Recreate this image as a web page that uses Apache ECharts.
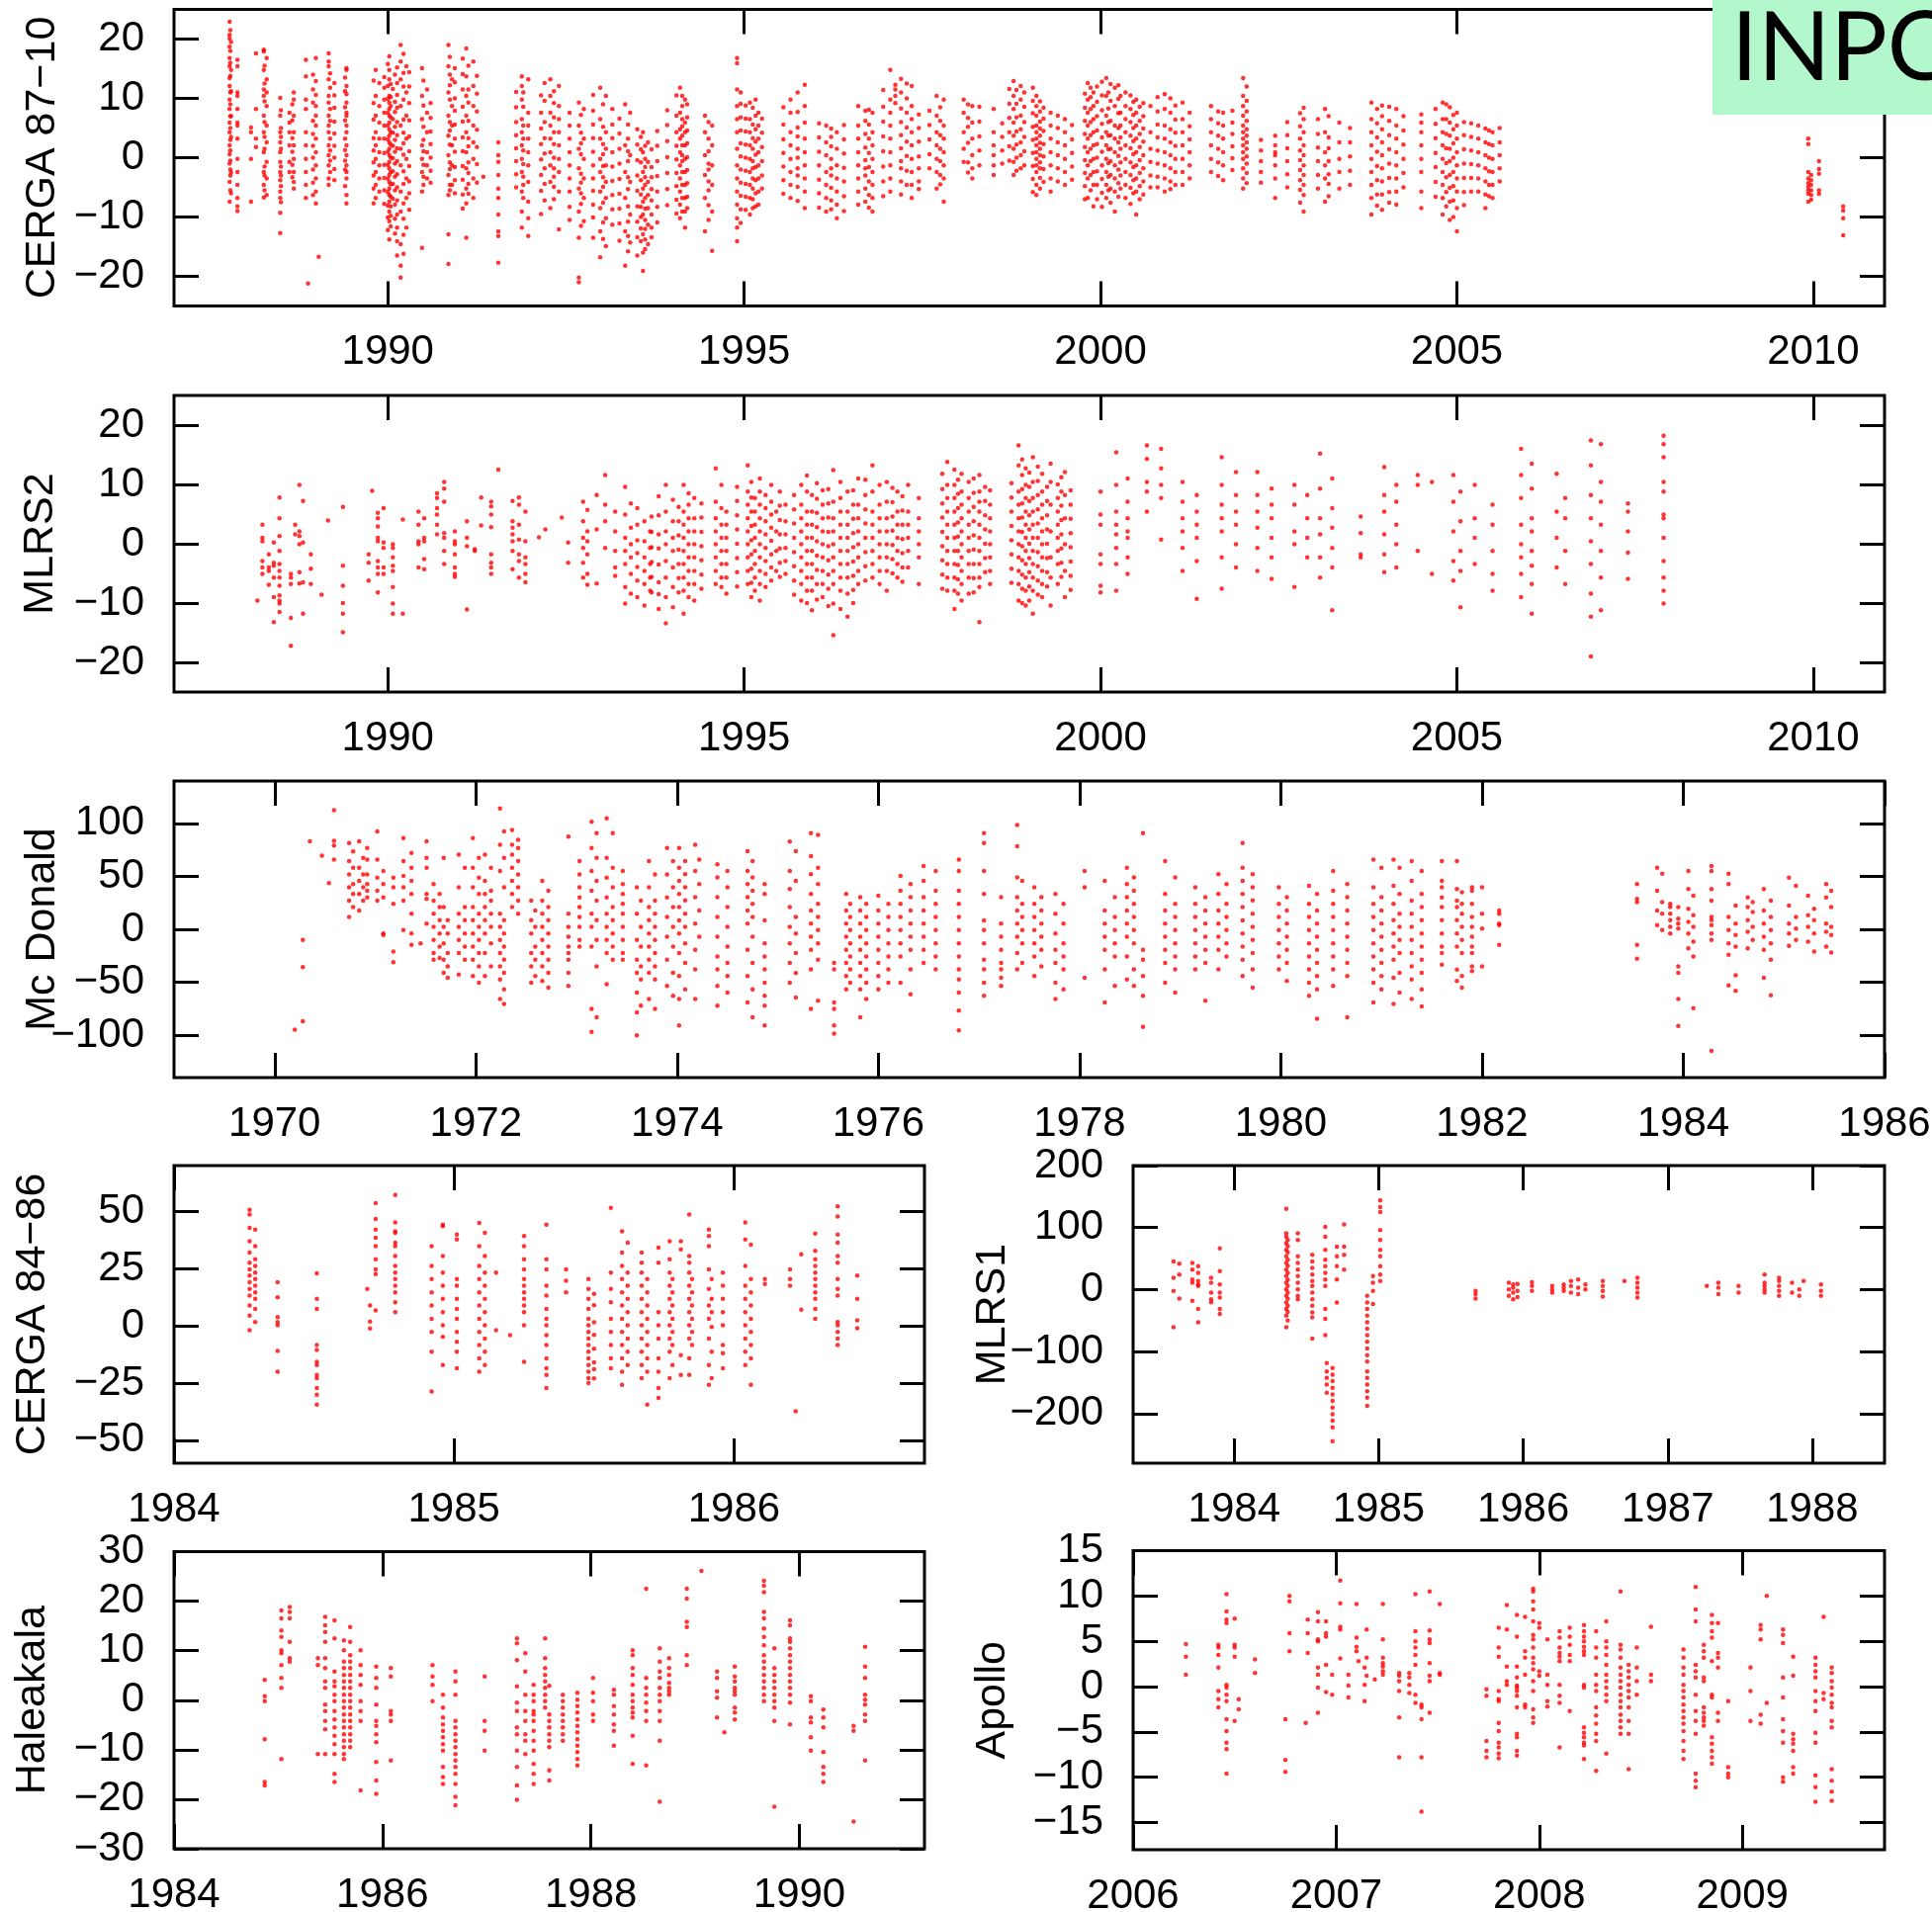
<!DOCTYPE html>
<html><head><meta charset="utf-8">
<script src="https://cdn.jsdelivr.net/npm/echarts@6/dist/echarts.min.js"></script>
<style>html,body{margin:0;padding:0;background:#fff}#c{width:1954px;height:1934px}</style>
</head><body><div id="c"></div><script>
// ---- DATA: each row = [epoch (year), residual1, residual2, ...] ----
const cerga8710Nights = [
[1987.78,22.9,20.7,20.1,18.7,16.8,15.4,13.4,12.1,9.8,8.2,5.9,4.3,2.1,0.6,-1,-4.1,-7.4],
[1987.79,21.5,18,16,13.8,11,9,7,5,3,1.2,-0.5,-2,-3,-5.5],
[1987.80,19.5,14.8,11.2,7,3.5,-2.5,-6],
[1987.89,16.5,15.4,11,10.4,8.2,5.9,5.4,3.2,-0.2,-2.4,-4.6,-6.8,-8.2,-9],
[1988.08,5.1,4.3,-0.2,-7.4],[1988.15,17.6,8.2,3.2,1.8],
[1988.26,18.2,17.9,14.8,11.5,10.4,7.1,4.3,0.9,-2.4,-4.6,-6.7],
[1988.27,15.5,12.5,9.5,6,3.5,1.5,-1.5,-3,-5.5],
[1988.30,16.8,13.2,11,8.7,5.4,2.6,-0.7,-3.5,-6.3],
[1988.49,10.1,7.1,4.3,2.6,0.9,-0.7,-2.4,-3.8,-5.7,-6.8,-9.3,-12.7],
[1988.50,8,5,3.5,1.5,-1.5,-3,-4.8,-7.5],
[1988.62,7.6,5.9,4.3,2.1,-0.7,-2.4],[1988.66,9,6.3,3.3,1,-1.2,-3.3],
[1988.68,11,9.8,7.1,4.3,2.1,-0.2,-2.4,-4.1,-5.2],
[1988.85,16.5,13.7,9.8,8.2,4.3,2.1,-0.2,-2.4,-4.6,-6.8],[1988.88,-21.2],
[1988.95,14,11.5,9.3,6.2,4,2,0,-2,-4.2,-6.3],
[1988.99,16.8,12.9,10.6,8.7,7.1,5.4,3.2,0.9,-1.3,-3.5,-5.7,-7.7],[1989.03,-16.7],
[1989.17,17.6,16.2,15.4,13.2,10.4,9.3,7.1,5.4,4.3,2.1,0.4,-1.3,-3.5,-4.6],
[1989.19,14.2,11.8,8.2,6.2,3.2,1.2,-0.5,-2.4],[1989.25,12.6,10.5,8.4,6.1,4.1,2,0,-1.9,-3.8],
[1989.40,13.5,11.2,8.5,6.3,3.2,1.3,-0.5,-2,-4.8],
[1989.42,15.1,14.8,12.1,10.7,9.3,7.6,7.1,5.4,4.3,2.1,0.4,-1.3,-2.4,-3.5,-6.3,-7.7],
[1989.80,13,9.2,6.4,3.3,1.2,-0.8,-3,-5.2,-7.7],
[1989.83,14.8,10.4,7.1,4.3,2.1,-0.2,-2.4,-4.6,-6.8],
[1989.88,12.6,8.7,5.9,3.2,0.9,-1.3,-3.5,-5.7],
[1989.95,13.6,11.8,9.8,7.6,5.4,3.2,0.8,-1.2,-3.4,-5.5,-7.8],
[1990.00,15.8,12.1,9.9,7.6,5.4,3.1,1,-1.2,-3.5,-5.8,-8.1,-10.1,-12.2],
[1990.02,17.1,14.8,13.2,10.4,9.3,8.2,7.1,5.9,4.8,3.7,2.6,1.5,0.4,-0.7,-1.8,-2.9,-4.1,-5.2,-6.3,-7.4,-9.1,-10.7,-13.8],
[1990.04,12.4,10.2,8.7,6.8,4.3,2.2,0,-2.4,-4.5,-6.6,-8.2,-9.8,-11.6],
[1990.07,11.6,6.5,4.2,2,-0.1,-2.3,-4.4,-6.9],
[1990.10,14,9.4,7.7,5.2,3,1,-1,-3.2,-5.5,-7.9,-10.3,-12.8],
[1990.13,15.2,12.6,10.6,8.4,6,3.8,1.6,-0.6,-2.8,-5,-7.2,-9.6,-11.8,-14.1,-16.5],
[1990.18,19,16.2,13.2,8.7,5.4,1.5,-1.3,-5.7,-9.1,-14.6,-18.2,-20.2],
[1990.22,17.5,14.3,12,9.8,6.4,4.2,2.4,0.5,-2.3,-4.4,-7.7,-10.3,-13,-16.2],
[1990.26,15.4,11,7.1,3.2,-0.2,-3.5,-6.8,-11.8],
[1990.30,14.4,12,9.2,6.3,3.6,1.1,-1.4,-4,-6,-8.8],
[1990.48,15.1,10.4,6.5,2.1,-0.2,-2.4,-5.7,-15.2],
[1990.50,13,8.8,5.2,3,1.1,-1.2,-3.2,-4.6],
[1990.55,11.5,7.6,4.3,0.9,-1.3,-3.5],[1990.60,9.2,6.7,4.4,2.3,0,-2.2,-4.2],
[1990.85,19,15.4,11,7.1,3.7,0.4,-2.9,-6.3,-12.9,-17.9],
[1990.87,17,14,12.2,9.8,6,4.6,2.2,-0.8,-1.9,-4.6,-5.5],
[1990.90,13.2,8.7,5.4,2.1,-1.3,-4.6],[1990.94,15.1,12.7,10,7.9,5.6,3.2,1,-1.6,-3.8,-6],
[1991.05,16.7,14.1,11.5,8.6,6.1,3.4,1.1,-1.4,-3.7,-6.2,-8.6],
[1991.10,18.4,13.7,10.4,7.1,4.3,0.9,-1.8,-5.2,-7.7,-13.5],
[1991.13,15.5,11.5,9.3,6.2,3.3,1.9,-0.8,-2.6,-4.4,-6.1],
[1991.20,16.2,12.1,8.7,5.4,2.6,-0.2,-3.5,-6.8],[1991.25,13.8,10.8,7.8,4.7,1.8,-1.1,-4.2],[1991.34,-3.2],
[1991.55,2.6,0.4,-0.7,-2.9,-5.2,-6.8,-9.6,-12.4,-13.2,-17.7],
[1991.80,11.1,8.5,6,3.8,1.6,-0.6,-2.8,-5],
[1991.88,13.7,12.1,9.8,6.5,4.3,2.1,-0.2,-2.4,-5.7,-9.1,-11.8],
[1991.90,11,8.6,5.4,3.2,1.2,-1.1,-3.2,-4.6,-6.8],
[1991.97,13.2,7.6,5.4,3.2,0.9,-1.3,-4.1,-7.4,-10.2,-13.2],
[1992.15,10.5,7.6,4.9,2.3,-0.3,-2.9,-5.6,-9.5],[1992.20,12.6,9.6,6,3.3,0.7,-1.8,-4.4,-7.2],
[1992.28,13.2,10.4,7.6,5.4,3.2,0.9,-1.3,-4.1,-8.5],
[1992.33,11.2,9.2,6.8,4.3,2.3,0,-1.8,-3.2,-4.9,-7],
[1992.40,12.1,8.7,6.5,4.3,2.1,-0.2,-2.4,-5.7,-12.1],
[1992.55,7.6,5.4,3.2,0.9,-1.3,-3.5,-5.7,-8.3,-10.5],
[1992.68,9.3,5.4,1.5,-1.8,-5.2,-9.1,-13.5,-20.2,-21],
[1992.71,7.2,4.2,2.4,0.6,-2.7,-4.2,-6,-7.8,-11.5],
[1992.75,8.2,3.2,-0.2,-3.5,-6.8,-10.7],
[1992.88,10.6,7.9,5.6,3.3,1,-1.3,-3.5,-5.6,-7.9,-10.1,-13.5],
[1992.98,11.8,6.5,3.2,-0.2,-2.4,-5.7,-8.5,-12.4,-16.8],
[1993.02,9,5.2,2.3,0.6,-1.4,-3.3,-4.9,-7.6,-10.9,-13.7],
[1993.06,10.4,4.3,1.5,-1.3,-4.1,-6.8,-10.2,-14.9],
[1993.15,8.2,5.6,3.3,0.9,-1.5,-3.9,-6.3,-8.7,-11.3],
[1993.25,6.6,4.1,1.5,-1,-3.6,-6.1,-8.6,-11.1,-14],
[1993.33,9,2.1,-2.4,-6.8,-12.4,-18.2],[1993.37,5.6,3.2,1.1,-0.6,-3.3,-5.3,-8.2,-10.8,-13.2,-15.8],
[1993.40,7.6,0.4,-4.1,-9.6,-14.3],
[1993.50,4.8,2.2,-0.4,-3,-5.6,-8.2,-10.8,-13.4,-16.5],
[1993.55,3.5,1.4,-0.8,-3.8,-6.2,-8.3,-10,-11.9,-14.1],
[1993.58,4.3,0.9,-2.4,-5.2,-7.4,-9.6,-12.9,-16,-19.1],
[1993.61,2,-0.2,-1.6,-3.3,-4.6,-6.8,-8.6,-10.5,-12,-13.8,-15.4],
[1993.65,2.6,-0.7,-4.1,-6.3,-8.5,-11.3,-14.6],
[1993.70,1.4,-1.6,-3.3,-5.3,-7.2,-9.6,-11.8,-13.4],
[1993.78,4.5,2,-0.6,-3.1,-5.7,-8.3,-10.9],[1993.92,8,5.5,2.8,0.1,-2.6,-5.3,-8],
[1994.05,10.5,7.1,4.3,2,-0.3,-2.6,-4.8,-7.1,-9.4],
[1994.10,11.8,7.6,4.8,3.2,0.9,-1.3,-3.5,-5.7,-7.9,-10.2],
[1994.13,10.4,8.7,6.5,5.3,3.7,2.1,0.4,-0.6,-2.4,-4.6,-6.8,-9.1],
[1994.17,9.8,5.9,4.3,2.1,-0.2,-2.4,-4.6,-6.8,-9.1,-11.8],
[1994.20,9,6.8,4.6,2.4,0.1,-2.1,-4.3,-6.6,-8.5],
[1994.45,7.1,4.3,0.4,-2.9,-6.8,-12.4],[1994.50,6,3.2,1.1,-1,-2,-4,-5.5,-8,-10.5],
[1994.55,5.4,2.1,-1.3,-4.6,-9.1,-15.7],
[1994.90,16.8,15.9,11.5,8.7,6.5,4.3,1.5,-1.3,-3.5,-5.7,-7.9,-10.2,-11.8,-14.1],
[1994.95,11,9.1,6.8,4.6,2.4,0.2,-2,-4.2,-6.4,-8.7,-11],
[1995.02,8.8,6.6,4.4,2.2,0,-2.2,-4.4,-6.6,-8.8],
[1995.08,9.3,6.5,4.3,2.1,-0.2,-2.4,-4.6,-6.8,-9.6],
[1995.12,8.4,5.6,3.3,1.5,-0.6,-1.8,-3.5,-5.2,-7,-8.5],
[1995.16,9.8,7.1,4.8,2.7,0.5,-1.6,-3.8,-6,-8.2],
[1995.20,7.6,5.4,3.2,0.9,-1.3,-3.5,-5.7,-7.9],[1995.25,6.6,4.2,1.8,-0.6,-3,-5.2],
[1995.55,8.5,5.6,3.1,0.8,-1.5,-3.8,-6.1],
[1995.65,9.8,7.6,4.3,2.1,-0.2,-2.4,-4.6,-6.8],
[1995.75,11,7.7,5.1,3.6,1.5,0,-1.8,-3,-4.9,-7.3],
[1995.85,12.3,8.7,5.9,3.2,0.9,-1.3,-3.5,-5.7,-8.5],
[1996.05,5.8,3.4,1,-1.3,-3.7,-6,-8.4],
[1996.15,5.4,2.6,0.4,-2.4,-4.6,-6.8,-9.1],[1996.22,4.9,3.5,1.9,-0.2,-1.8,-3,-5.1,-7.2,-8.7],
[1996.30,4.3,1.5,-1.3,-3.5,-5.7,-7.9,-10.2],[1996.40,5.5,3.1,0.7,-1.7,-4,-6.5,-9],
[1996.60,8.7,5.4,3.2,0.9,-1.3,-3.5,-5.7,-7.9],[1996.70,7.9,6.2,4,1.7,-0.4,-1.8,-3,-5.2,-7.4],
[1996.75,8.1,5.6,3.2,0.8,-1.6,-4,-6.3,-8.4],
[1996.80,7.6,4.3,2.1,-0.2,-2.4,-4.6,-6.8,-9.1],[1996.95,11.4,8.6,6.1,3.6,1.1,-1.5,-4,-6.5],
[1997.05,14.8,9.8,7.6,5.4,3.2,0.9,-1.3,-3.5,-5.7],[1997.12,12.3,11.5,10.4,9.2],
[1997.20,13.3,11,8.3,6,3.8,1.6,-0.6,-1.8,-4,-6.2],[1997.28,12.5,10,7.6,5.1,2.7,0.3,-2.2,-4.6],
[1997.35,12.1,8.7,6.5,4.3,2.1,-0.2,-2.4,-4.6,-6.8],[1997.45,7.3,5,2.7,0.2,-1.8,-4,-5.3],
[1997.60,7.9,5.5,3.1,0.6,-1.8],
[1997.70,10.4,7.1,4.3,2.1,-0.2,-2.4,-5.2],[1997.75,8.5,6.2,3.8,1.5,-0.6,-2.9,-4.5],
[1997.80,9.8,5.4,3.2,0.9,-1.3,-3.5,-7.4],
[1998.08,9.8,7.6,4.3,1.5,-0.7],[1998.14,9,6.7,5.2,2.5,-0.8,-2.5],[1998.20,8.7,5.9,3.2,0.4,-1.8,-3.5],
[1998.30,8.6,6.1,3.6,1.2,-1.3],[1998.50,8.2,4.3,2.1,0.4,-1.3,-2.9],[1998.62,5.8,3.5,1.2,-1],
[1998.72,11.6,9.1,6.7,4.3,1.9,-0.5],
[1998.78,12.9,10.4,8.2,5.9,3.7,1.5,-0.7,-2.9],[1998.82,11.4,9.1,6.8,4.4,2.2,0,-2.2],
[1998.88,12.1,9.8,7.1,4.8,2.6,0.4,-1.8],[1998.93,11,8.6,6,3.5,1.1,-1.3],
[1999.05,11.8,9.6,7.5,5.2,3,0.8,-1.4,-3.6,-5.8],
[1999.10,10.4,8.7,7.1,5.4,4.3,3.2,2.1,0.9,-0.2,-1.3,-2.4,-4.6,-6.3],
[1999.15,9.5,7.8,6.1,4.9,3.7,2.5,1.5,0.4,-0.8,-1.8,-3.4,-5.2],
[1999.20,8.4,6.6,4.5,2.3,0.2,-1.9,-4.1],
[1999.30,7.6,5.4,3.2,0.9,-1.3,-3.5,-5.7],[1999.40,7.1,5,2.6,0.4,-1.8,-4],
[1999.50,6.5,4.3,2.1,-0.2,-2.4,-4.6],[1999.60,5.5,3.1,0.8,-1.5,-3.7],
[1999.78,10.8,8.4,6.2,4,1.8,-0.4,-2.6,-4.8,-7],
[1999.82,12.6,9.8,7.6,5.4,3.2,0.9,-1.3,-3.5,-6.8],[1999.86,11.8,10.2,8.2,6,3.8,1.5,-0.6,-2.9,-5.5],
[1999.90,11,8.7,6.5,4.3,2.1,-0.2,-2.4,-4.6,-8.2],[1999.95,12,9.4,7,4.6,2.3,0,-2.3,-4.6,-7],
[2000.02,12.8,10.5,8,5.7,3.4,1,-1.3,-3.6,-5.9,-8.3],
[2000.08,13.4,10.4,7.1,4.3,2.1,-0.2,-2.4,-4.6,-6.8],[2000.11,11,8.3,6,3.7,1.4,-0.9,-3.2,-5.5],
[2000.14,12.4,9.6,6.2,3.8,1.5,-0.6,-2.9,-5.2,-7.6],
[2000.20,11.8,8.7,5.4,3.2,0.9,-1.3,-3.5,-5.7,-9.1],[2000.25,12.2,9.9,7.5,5,2.6,0.3,-2,-4.3,-6.6],
[2000.28,10.4,7.6,5.4,3.4,1.5,-0.8,-3,-5.2],
[2000.35,11,8.7,6.5,4.3,2.1,-0.2,-2.4,-4.6,-6.8],[2000.42,10.5,8.2,6,3.7,1.6,-0.8,-2.9,-5.1,-7.8],
[2000.46,9.4,7.2,5,2.8,0.6,-1.6,-3.8,-6],
[2000.50,9.8,7.6,5.4,3.2,0.9,-1.3,-3.5,-5.7,-9.6],[2000.55,8.6,6.2,4,1.8,-0.4,-2.6,-4.8,-7],
[2000.60,9.2,7,4.9,2.7,0.4,-1.8,-4,-6.2],
[2000.70,8.7,4.3,1.5,-0.7,-3,-5],[2000.80,10.2,7.8,5.6,3.4,1.2,-1,-3.2,-5],
[2000.90,10.7,8.2,5.4,3.2,0.9,-1.3,-3.5,-5.7],[2000.98,10,7.6,4.8,2.6,0.4,-1.8,-4,-5.3],
[2001.05,8.8,6.4,4.2,2,-0.2,-2.4,-4.6],
[2001.15,9.3,6.5,4.3,2.1,-0.2,-2.4,-4.6],[2001.25,7.6,5.3,3.1,0.9,-1.3,-3.5],
[2001.55,8.7,6.5,4.3,2.1,-0.2,-2.4],[2001.65,7.8,5.8,3.7,1.5,-0.8,-3.1],[2001.72,7.6,5.4,3.2,0.9,-1.3,-3.8],
[2001.85,7.9,5.9,4,1.9,-0.1,-2.1],
[2002.00,13.4,10.4,8.7,7.1,5.4,4.3,3.2,2.1,0.9,-0.2,-1.8,-3.5,-5.2],
[2002.05,12,9.6,7.8,6.2,4.8,3.7,2.6,1.5,0.2,-1,-2.6,-4.3],
[2002.25,3,1.2,-0.6,-2.4,-4.2],
[2002.45,3.7,2.1,0.9,0.4,-1.3,-3.5,-6.8],[2002.62,6,3.8,1.6,-0.6,-2.8,-5],
[2002.80,7.5,5.3,3.2,1.2,-0.4,-2.1,-3.8,-5.4,-7.6],
[2002.85,8.4,6.5,4.3,2.1,0.4,-1.3,-2.9,-4.6,-6.3,-9.1],
[2003.05,6.5,4,1.7,-0.6,-2.9,-5.2],
[2003.15,8.2,4.3,0.9,-1.3,-3.5,-7.4],[2003.20,7,3.4,1.6,-0.6,-2.8,-4.4,-6.5],
[2003.35,5.9,2.6,-0.2,-2.4,-5.2],[2003.50,5,2.6,0.2,-2.2,-4.6],
[2003.80,9.3,6.5,4.3,2.1,-0.2,-2.4,-4.6,-6.8,-9.6],[2003.88,8.2,5.8,3.4,1,-1.4,-3.8,-6.2,-8.1],
[2003.95,8.8,7,4.8,2.6,0.4,-1.8,-4,-6.2,-8.8],[2004.05,8.6,6.2,3.8,1.4,-1,-3.4,-5.8,-7.6],
[2004.15,8.2,5.4,3.2,0.9,-1.3,-3.5,-5.7,-7.9],[2004.25,7,4.6,2.2,-0.2,-2.6,-5],
[2004.50,7.3,5.9,4.3,2.1,-0.2,-2.4,-5.7,-8.5],[2004.70,8.2,5.7,3.3,0.8,-1.6,-4.1,-6.6],
[2004.80,9.3,6.5,4.3,2.1,-0.2,-2.4,-4.6,-6.8,-9.6],[2004.85,9,6.5,4,1.6,-0.9,-3.3,-5.8,-8.2],
[2004.90,8.5,5.9,3.7,1.5,-0.6,-2.9,-5.1,-7.4,-10.5],[2004.95,7.2,4.8,2.4,0,-2.4,-4.8,-7.2,-10],
[2005.00,7.6,5.4,3.2,0.9,-1.3,-3.5,-5.7,-8.5,-12.4],[2005.10,6,3.8,1.4,-1,-3.4,-5.8,-8],
[2005.20,5.8,3.5,1.2,-1.1,-3.4,-5.7],
[2005.30,5.4,3.2,0.9,-1.3,-3.5,-5.7],[2005.40,4.9,2.6,0.4,-1.8,-4,-6.2,-8.5],
[2005.45,4.6,2.3,0,-2.3,-4.6,-6.5],
[2005.50,4.3,2.1,-0.2,-2.4,-4.6,-6.8],[2005.60,5,2.6,0.4,-1.8,-4],
[2009.93,3.2,2.3,-2.4,-3.5,-4.3,-4.9,-5.5,-6.1,-7.4],
[2009.97,-2.9,-3.8,-4.6,-5.5,-6.3,-7.1],
[2010.08,-0.6,-1.9,-2.7,-5.5,-6.1],
[2010.42,-8.2,-8.9,-10.2,-13.1]
];
const mlrs2Nights = [
[1988.17,-9.6],[1988.24,3.2,1,0.4,-2.9,-4,-5.1],[1988.33,-1.8,-4,-4.6,-6.9],
[1988.40,0.2,-3.2,-3.7,-5.7,-9,-13.2],
[1988.48,7.8,4.3,1.3,-1.2,-3.4,-4.6,-5.7,-7.1,-8.7,-9.6,-10.1,-11.5],
[1988.64,-5.1,-5.7,-6.8,-12.5,-17.2],[1988.70,3.2,1.6],[1988.76,9.9,2.1,1.3,-0.1,-4.8,-6.7],
[1988.81,7.2,0.2,-6.5,-11.8],[1988.92,-1.8,-4.2,-6.8],[1989.07,-8.6],[1989.16,3.9],
[1989.37,6.2,-3.7,-7.1,-10,-11.8,-14.9],[1989.73,-1.8,-3.2,-6.2],[1989.78,8.9],
[1989.86,5.2,4.3,2.9,1,0.4,-2.9,-4,-5.1,-8.2],[1989.94,6,0.2,-0.7,-4,-5.1],
[1990.07,-0.1,-0.7,-2.3,-3.7,-4.6,-7.3,-10.1,-11.8],[1990.21,4.1,-11.8],
[1990.43,5.4,3.2,0.4,-0.1,-4],[1990.51,4.3,1,0.4,-2.6,-4.3],
[1990.69,8.5,7.7,6,4.9,3.2,1.6],[1990.79,10.4,9.3,7.1,1.8,1,-1.2,-3.4],
[1990.94,2.1,0.4,-0.1,-1.8,-4,-5.1,-5.6],[1991.11,3.8,1,-0.4,-11.1],[1991.22,-0.9,-1.2],
[1991.31,7.8,3.1],[1991.45,7.1,6.3,4.9,2.8,-1.8,-3.2,-4,-5.1],[1991.55,12.5],
[1991.75,7.2,3.8,2.7,1.6,0.4,-1.2,-4.3],[1991.84,7.8,6.6,3.2,0.7,-1.8,-2.9,-5.7],
[1991.93,5.4,0.4,-2.3,-3.4,-5.1,-6.5],[1992.12,1.1],[1992.21,2.4],[1992.44,4.4],[1992.53,0.2,-3.2],
[1992.74,7.1,3.8,1,-0.7,-3.2,-5.7],[1992.80,5.7,2.1,0.4,-1.8,-5.1,-6.9],
[1992.93,8.2,2.4,-6.7],[1993.05,11.6,6.6,3.8,-0.7],[1993.19,5.4,2.1,-1.2,-4,-5.4],
[1993.33,9.6,4.9,1,-1.2,-3.4,-7.3,-10.1],[1993.41,6.8,2.7,-0.1,-2.3,-5.1,-8.4],
[1993.50,6,3.2,0.6,-1.6,-3.9,-6.2,-9],
[1993.60,3.8,0.4,-2.3,-4.6,-6.8,-10.4],[1993.68,2.1,-0.7,-3.4,-5.7,-7.9],[1993.70,4.6,2,-0.6,-3.1,-5.6,-8.2],
[1993.80,8,4.8,1.6,-0.8,-3.5,-6.5,-8.5,-11],
[1993.90,9.9,5.4,2.1,-0.1,-2.9,-5.7,-9,-13.4],[1994.00,7.4,3.8,1,-1.2,-4,-7.3,-10.7],
[1994.08,6.2,3.8,1.4,-1,-3.4,-5.8,-8.2],
[1994.15,9.9,5.4,3.2,1,-1.2,-3.4,-5.7,-7.9,-11.8],[1994.22,8.5,6.6,4.3,2.1,-0.1,-2.3,-4.6,-6.8,-9],
[1994.30,7.7,4.3,2.1,-0.1,-2.3,-4.6,-6.8,-9.6],[1994.40,6.8,4.4,2,-0.4,-2.8,-5.2,-7.6],
[1994.60,12.7,7.1,4.3,2.1,-0.1,-2.3,-4.6,-6.8],[1994.68,9.9,6,3.2,1,-1.2,-3.4,-5.7,-7.3],
[1994.75,5.4,3.2,1,-1.2,-3.4,-5.7,-8.4],[1994.90,9.6,7.2,4.8,2.4,0,-2.4,-4.8,-7.2],
[1995.05,13.2,8.8,6.6,4.3,2.1,-0.1,-2.3,-4.6,-6.8],[1995.10,10.4,7.8,5.4,3,0.6,-1.8,-4.2,-6.6,-9],
[1995.15,7.7,5.4,3.2,1,-1.2,-3.4,-5.7,-7.9],
[1995.22,11,8.8,6.6,4.3,2.1,-0.1,-2.3,-4.6,-6.8,-9.6],
[1995.30,8.2,6,3.8,1.6,-0.7,-2.9,-5.1,-7.3],[1995.38,9.9,7.1,4.9,2.7,0.5,-1.8,-4,-6.2],
[1995.45,5.4,2.1,-1.2,-4.6],[1995.50,8.8,6.4,4,1.6,-0.8,-3.2,-5.6],[1995.58,6.6,3.8,1.6,-0.7,-2.9,-5.1],
[1995.70,8.2,5.8,3.4,1,-1.4,-3.8,-6.2,-8.6],
[1995.80,9.9,6.6,4.3,2.1,-0.1,-2.3,-4.6,-6.8,-9.6],[1995.88,11.5,8.8,5.4,3.2,1,-1.2,-3.4,-5.7,-7.9,-10],
[1995.95,8.2,5.4,3.2,1,-1.2,-3.4,-5.7,-7.9,-11.2],[1996.02,10.2,7.6,5.2,2.8,0.4,-2,-4.4,-6.8,-9.4],
[1996.10,9,6.6,4.3,2.1,-0.1,-2.3,-4.6,-6.8,-9],[1996.18,9.2,6.8,4.4,2,-0.4,-2.8,-5.2,-7.6,-10.5],
[1996.25,12.4,7.1,4.3,2.1,-0.1,-2.3,-4.6,-6.8,-10.1,-15.4],[1996.35,10.4,7.7,5.4,3.2,1,-1.2,-3.4,-5.7,-7.9,-11],
[1996.45,8.8,5.4,3.2,1,-1.2,-3.4,-5.7,-8.4,-12.3],[1996.53,9,6.6,4.2,1.8,-0.6,-3,-5.4,-7.8,-10],
[1996.60,11,6.6,4.3,2.1,-0.1,-2.3,-4.6,-6.8],[1996.70,10.8,8.2,5.8,3.4,1,-1.4,-3.8,-6.2],
[1996.80,13.2,8.8,5.4,3.2,1,-1.2,-3.4,-5.7],[1996.90,9.9,6.6,4.3,2.1,-0.1,-2.3,-4.6,-6.8],
[1997.00,10.4,7.1,4.3,2.1,-0.1,-2.3,-4.6,-7.9],[1997.08,9.4,7,4.6,2.2,-0.2,-2.6,-5],
[1997.15,8.8,5.4,3.2,1,-1.2,-3.4,-5.7],[1997.22,8,5.6,3.2,0.8,-1.6,-4,-6.4],
[1997.30,9.9,5.4,3.2,1,-1.2,-4],[1997.45,7.7,4.3,2.1,-0.1,-2.3,-6.8],
[1997.78,11.8,9.2,6.8,4.4,2,-0.4,-2.8,-5.2,-7.6],
[1997.85,13.8,9.9,7.7,5.4,3.2,1,-1.2,-3.4,-5.7,-7.9],[1997.95,12.5,9.9,7.7,5.4,3.2,1,-1.2,-3.4,-5.7,-7.9,-11],
[1998.00,10.8,8.4,6,3.6,1.2,-1.2,-3.6,-6,-8.4],
[1998.05,11.8,8.8,6.6,4.3,2.1,-0.1,-2.3,-4.6,-6.8,-9.6],[1998.15,10.4,7.7,5.4,3.2,1,-1.2,-3.4,-5.7,-8.4],
[1998.22,11,8.6,6.2,3.8,1.4,-1,-3.4,-5.8,-8.2],
[1998.30,11.6,8.8,7.1,5.4,3.2,1,-1.2,-3.4,-5.7,-7.3,-13.2],[1998.38,9.6,7.2,4.8,2.4,0,-2.4,-4.8],
[1998.45,9,6.6,4.3,2.1,-0.1,-2.3,-4.6,-6.8],[1998.75,10.2,7.8,5.4,3,0.6,-1.8,-4.2,-6.6],
[1998.85,16.6,13.2,8.8,6.6,4.3,2.1,-0.1,-2.3,-4.6,-6.8,-9.6],[1998.90,14.2,11.6,9.2,6.8,4.4,2,-0.4,-2.8,-5.2,-7.6,-10],
[1998.95,12.7,9.9,7.7,5.4,3.2,1,-1.2,-3.4,-5.7,-7.9,-10.4],[1999.00,12,9.6,7.2,4.8,2.4,0,-2.4,-4.8,-7.2,-9.6],
[1999.05,14.6,10.4,7.7,5.4,3.2,1,-1.2,-3.4,-5.7,-7.9,-11.8],[1999.12,13,10.6,8.2,5.8,3.4,1,-1.4,-3.8,-6.2,-8.6],
[1999.18,11.8,8.8,6.6,4.3,2.1,-0.1,-2.3,-4.6,-6.8,-9],[1999.25,9.6,7.2,4.8,2.4,0,-2.4,-4.8,-7.2],
[1999.30,13.5,10.4,6.6,2.1,-2.3,-5.7,-10.4],[1999.40,10,7.7,5.4,3.2,1,-1.2,-3.4,-6.8],
[1999.45,11.2,8.8,6.4,4,1.6,-0.8,-3.2,-5.6],
[1999.50,12.1,8.2,4.3,-0.1,-4.6,-9],[1999.58,9,6.6,4.2,1.8,-0.6,-3,-5.4,-7.8],
[2000.00,8.8,4.9,3.2,-1.8,-3.4,-7.1,-8.2],
[2000.22,15.4,9.9,5.4,3.2,1.6,-0.7,-3.4,-7.9],[2000.38,11,7.1,4.3,2.1,1,-2.3,-5.1],
[2000.65,16.6,14.3,10.4,8.8,5.4],[2000.85,16,12.7,9.9,7.7,0.7],
[2001.15,10.4,7.1,4.3,2.1,-0.7,-4.6],[2001.35,8.2,5.4,3.2,1,-2.9,-9.3],
[2001.70,14.6,9.9,6.6,4.3,2.1,-2.3,-7.6],[2001.90,12.1,8.2,5.4,3.2,-0.1,-4],
[2002.20,12.1,8.2,5.4,2.7,-0.7,-4.6],[2002.40,9.3,6.6,4.3,1,-2.3,-5.9],
[2002.72,9.9,6.6,2.1,-0.1,-7.3],[2002.90,8.2,4.3,1,-2.3],
[2003.08,15.2,9.3,4.3,1.6,-2.3,-5.7],[2003.25,11,6,2.7,-0.7,-4,-11.2],
[2003.65,4.6,1.8,-1.8,-2.3],
[2003.98,12.9,8.2,5.4,1.6,-1.8,-4.8],[2004.15,9.9,7.1,3.2,-0.1,-4],
[2004.45,11.6,9.9,-1.2],[2004.65,10.4,-5.1],
[2004.95,11.6,7.1,2.1,-2.9,-6.2],[2005.05,8.8,3.8,-1.2,-4.6,-10.7],
[2005.25,9.9,4.3,1,-3.4],[2005.50,6.6,3.2,-1.2,-5.1,-7.9],
[2005.90,16,11.6,7.7,3.2,-0.1,-2.3,-5.1,-9],[2006.05,13.5,9.3,4.3,2.1,-1.2,-3.7,-6.8,-11.8],
[2006.40,11.8,5.4,1,-4],[2006.52,7.7,4.3,-1.2,-6.8],
[2006.88,17.4,13.2,8.2,4.3,0.4,-3.4,-8.4,-12.3,-19],[2007.02,16.8,10.4,7.1,3.2,-1.2,-5.7,-11.2],
[2007.40,6.8,5.4,2.1,-1.5,-5.9],
[2007.90,18.2,16.8,14.6,10.4,8.8,4.9,4.3,1,-2.9,-5.7,-7.9,-10.1]
];
const mcdonaldNights = [
[1970.20,-94.7],[1970.28,-10,-35.8,-86.7],[1970.35,83],[1970.47,69.6],[1970.54,43.6],
[1970.59,112.4,83.6,79.2,65.9],[1970.74,81.4,64.3,51.9,39.6,27.1,11.6],[1970.78,73.6,58.2,42.6,33.4,20.9],
[1970.84,83,58.2,45.7,33.4,17.8],[1970.88,67.5,51.9,39.6,27.1],[1970.92,76.8,65.9,51.9,42.6,36.4,30.2],
[1971.02,92.3,65.9,48.8,36.4,27.1],[1971.08,55,42.6,30.2,-3.9,-5.4],[1971.18,48.8,39.6,24,-20.9,-31.1],
[1971.28,86,64.3,50.4,39.6,27.1,-0.7],[1971.36,72,58.2,45.7,33.4,14.7,-3.9,-14.7],[1971.45,-13.2],
[1971.51,83,67.5,58.2,33.4,28.7,5.4],[1971.58,42.6,27.1,14.7,2.4,-10,-22.5,-28.7],
[1971.64,33.4,20.9,8.6,-3.9,-16.3,-27.1],[1971.68,67.5,20.9,2.4,-13.2,-28.7,-41.1],
[1971.72,8.6,-3.9,-22.5,-34.9,-45.8],[1971.83,70.5,39.6,14.7,2.4,-10,-22.5,-42.6],
[1971.89,58.2,20.9,8.6,-3.9,-16.3,-28.7],[1971.97,86,58.2,39.6,20.9,8.6,-3.9,-16.3,-28.7,-44.2],
[1972.03,67.5,48.8,33.4,14.7,2.4,-10,-22.5,-34.9,-50.4],[1972.09,70.5,45.7,33.4,20.9,8.6,-3.9,-22.5,-44.2],
[1972.15,58.2,36.4,27.1,14.7,2.4,-13.2,-34.9],[1972.24,114,79.8,55,14.7,2.4,-10,-22.5,-34.9,-47.3,-65.9],
[1972.28,92.3,67.5,39.6,8.6,-3.9,-16.3,-28.7,-41.1,-56.6,-70.5],[1972.36,93.8,79.8,70.5,58.2,45.7,33.4,20.9],
[1972.42,84.5,76.8,64.3,51.9,39.6,27.1,14.7],[1972.55,27.1,8.6,-3.9,-22.5,-34.9,-50.4],
[1972.59,17.8,2.4,-16.3,-28.7,-44.2],[1972.66,45.7,27.1,14.7,2.4,-10,-22.5,-34.9,-48.8],
[1972.72,36.4,20.9,8.6,-3.9,-16.3,-28.7,-41.1,-55],[1972.92,87.6,14.7,2.4,-7,-16.3,-22.5,-28.7,-41.1,-53.5],
[1973.03,64.3,51.9,39.6,30.2,20.9,11.6,2.4,-10,-16.3],[1973.15,101.6,76.8,55,36.4,14.7,2.4,-16.3,-75.2,-96.9],
[1973.20,90.7,67.5,45.7,27.1,8.6,-10,-34.9,-83],[1973.30,104.7,67.5,48.8,30.2,14.7,2.4,-10,-22.5,-51.9],
[1973.36,90.7,58.2,39.6,20.9,8.6,-3.9,-16.3,-28.7],[1973.46,55,42.6,33.4,24,14.7,2.4,-10,-22.5,-28.7],
[1973.60,39.6,14.7,-10,-28.7,-41.1,-59.7,-78.3,-100],[1973.64,27.1,2.4,-16.3,-34.9,-47.3,-72.1],
[1973.72,64.3,39.6,20.9,8.6,-3.9,-16.3,-28.7,-41.1,-65.9],[1973.78,51.9,27.1,14.7,2.4,-10,-22.5,-34.9,-47.3,-75.2],
[1973.90,76.8,51.9,30.2,11.6,-7,-28.7,-53.5],[1973.96,64.3,39.6,20.9,2.4,-16.3,-41.1,-62.8],
[1974.02,76.7,58.2,45.8,33.4,20.9,8.5,-3.9,-22.5,-44.2,-65.9,-90.7],[1974.08,64.3,52,39.6,27.2,14.8,2.4,-13.2,-31.8,-56.6],
[1974.18,79.9,55,30.3,5.4,-19.3,-37.9,-65.9],[1974.22,65.9,42.7,17.8,-6.9],
[1974.40,61.3,48.9,30.3,11.6,-6.9,-25.6,-37.9,-53.5,-72.1],[1974.50,55,39.6,20.9,2.4,-16.3,-31.8,-44.2,-59.7],
[1974.70,73.7,55,42.7,30.3,17.8,5.4,-19.3,-44.2,-69],[1974.75,64.3,48.9,36.5,24,11.6,-6.9,-31.8,-56.6,-83],
[1974.87,42.7,33.4,8.5,-13.2,-25.6,-37.9,-50.4,-62.8,-72.1,-90.7],
[1975.12,82.9,55,38,20.9,2.4,-13.2,-31.8,-50.4],[1975.18,73.7,45.8,11.6,-3.9,-22.5,-41.2,-64.4],
[1975.33,90.7,69,52,33.4,17.8,5.4,-6.9,-19.3,-37.9,-75.2],[1975.40,89.2,58.2,42.7,24,11.6,-0.7,-13.2,-28.7,-67.5],
[1975.56,-31.8,-37.9,-69,-75.2,-90.7,-98.5],[1975.68,33.4,17.8,5.4,-6.9,-19.3,-31.8,-44.2,-56.6],
[1975.72,24,11.6,-0.7,-13.2,-25.6,-37.9,-50.4],[1975.82,30.3,17.8,5.4,-6.9,-19.3,-31.8,-44.2,-56.6,-83],
[1975.88,24,11.6,-0.7,-13.2,-25.6,-37.9,-50.4,-65.9],[1976.00,31.8,17.8,5.4,-6.9,-19.3,-31.8,-44.2,-56.6],
[1976.10,24,11.6,-0.7,-13.2,-25.6,-37.9,-50.4],[1976.22,50.4,36.5,24,11.6,-0.7,-13.2,-25.6,-50.4],
[1976.32,42.7,30.3,17.8,5.4,-6.9,-19.3,-37.9,-61.3],[1976.45,59.7,45.8,30.3,17.8,5.4,-6.9,-19.3,-31.8],
[1976.57,55,36.5,24,11.6,-0.7,-13.2,-25.6,-37.9],
[1976.80,65.9,55,36.5,24,11.6,-0.7,-13.2,-25.6,-37.9,-47.3,-59.7,-76.8,-95.4],
[1977.05,90.7,81.4,55,33.4,8.5,-0.7,-13.2,-28.7,-37.9,-50.4,-62.8],[1977.22,30.3,5.4,-6.9,-19.3,-31.8,-37.9,-45.7,-53.5],
[1977.38,98.4,78.3,48.9,30.3,17.8,5.4,-6.9,-22.5,-37.9],[1977.43,45.8,24,11.6,-0.7,-13.2,-31.8],
[1977.55,39.6,24,11.6,-0.7,-13.2,-25.6,-44.2],[1977.62,30.3,17.8,5.4,-6.9,-19.3,-34.9],
[1977.76,33.4,14.8,-3.9,-19.3,-31.8,-50.4,-65.9],[1977.84,24,5.4,-13.2,-25.6,-37.9,-56.6],
[1978.05,55,39.6,-45.7],[1978.25,45.8,17.8,5.4,-6.9,-19.3,-37.9,-69],[1978.35,30.3,11.6,-0.7,-13.2,-25.6,-53.5],
[1978.47,58.2,42.7,30.3,17.8,5.4,-6.9,-25.6,-47.3],[1978.54,48.9,36.5,24,11.6,-0.7,-13.2,-37.9,-53.5],
[1978.63,90.7,-19.3,-28.7,-44.2,-62.8,-92.2],[1978.85,64.3,33.4,17.8,5.4,-6.9,-19.3,-31.8,-50.4],
[1978.95,48.9,24,11.6,-0.7,-13.2,-25.6,-37.9,-59.7],[1979.15,39.6,24,11.6,-0.7,-13.2,-25.6,-37.9],
[1979.25,30.3,17.8,5.4,-6.9,-19.3,-31.8,-67.5],[1979.38,52,33.4,17.8,5.4,-6.9,-19.3,-37.9],
[1979.46,42.7,24,11.6,-0.7,-13.2,-25.6],[1979.62,81.4,58.2,45.8,33.4,20.9,8.5,-3.9,-16.3,-28.7,-44.2],
[1979.72,52,39.6,27.2,14.8,2.4,-10,-22.5,-37.9,-55],[1979.98,39.6,24,11.6,-0.7,-13.2,-25.6,-37.9],
[1980.06,30.3,17.8,5.4,-6.9,-19.3,-31.8,-48.8],[1980.28,41,24,11.6,-0.7,-13.2,-25.6,-37.9,-50.4,-62.8],
[1980.36,33.4,17.8,5.4,-6.9,-19.3,-31.8,-44.2,-56.6,-84.5],[1980.52,55,36.5,24,11.6,-0.7,-13.2,-25.6,-37.9,-53.5],
[1980.66,42.7,30.3,17.8,5.4,-6.9,-19.3,-31.8,-44.2,-83],[1980.92,65.9,39.6,24,11.6,-0.7,-13.2,-25.6,-37.9,-50.4,-69],
[1981.00,58.2,30.3,17.8,5.4,-6.9,-19.3,-31.8,-44.2,-56.6],[1981.12,65.9,41.1,24,8.6,-3.9,-16.3,-28.7,-45.8,-70.5],
[1981.18,58.2,33.3,14.7,2.4,-10,-22.5,-41.1,-59.7],[1981.30,64.3,45.7,27.1,14.7,2.4,-10,-22.5,-34.9,-47.3,-65.9],
[1981.40,55,33.3,20.9,8.6,-3.9,-16.3,-28.7,-41.1,-56.6,-72.7],[1981.60,64.3,45.7,39.6,30.2,20.9,8.6,-3.9,-16.3,-22.5,-33.3],
[1981.75,64.3,38,27.1,20.9,8.6,-3.9,-16.3,-38,-48.8],[1981.80,34.9,24,14.7,2.4,-10,-22.5,-44.2,-55],
[1981.90,39.6,36.4,24,11.6,2.4,-7,-16.3,-22.5,-34.9,-39.5],[1982.00,39.6,14.7,0.8,-34.9],
[1982.17,17.8,14.7,5.4,3.9,-14.7],[1983.54,42.6,28.7,25.6,-14.7,-27.7],[1983.74,58.2,36.4,17.8,3.9],
[1983.79,52.6,25.6,14.7,-0.7],[1983.87,24,20.9,14.7,8.6,2.4,-3.9],[1983.95,20.9,10.1,5.4,0.8,-34.9,-41.1,-65.9,-91.3],
[1984.05,55,38,19.4,7,-3.9,-17.9],[1984.10,31.8,13.2,2.4,-11.6,-25.6,-74.5],
[1984.28,59.7,55,38,27.1,11.6,8.6,3.9,-3.9,-10,-114.9],[1984.45,52.6,42.6,11.6,-0.7,-13.2,-24,-52.9],
[1984.52,22.5,5.4,-5.4,-16.3,-43.5,-58.2],[1984.64,30.2,20.9,8.6,-2.4,-17.9],[1984.69,25.6,16.3,2.4,-10],
[1984.80,38,17.8,5.4,-7,-19.4,-45.7],[1984.87,27.1,11.6,-0.7,-13.2,-28.7,-62.2],
[1985.05,48.8,22.5,5.4,-3.9,-15.7],[1985.12,41.1,11.6,0.8,-10],[1985.24,31.8,13.2,2.4,-11.6],
[1985.30,19.4,8.6,-3.9,-20.9],[1985.42,42.6,30.2,5.4,-2.4,-16.3],[1985.47,36.4,20.9,2.4,-5.4,-21.9]
];
const cerga8486Nights = [
[1984.27,50.7,48.6,42.8,37,32,27.6,24.7,21.9,19,16.1,13.2,8.9,4.5,-1.9],
[1984.29,42,34.8,29.1,26.2,23.3,20.4,17.5,14.6,11.8,7.4,1.7],
[1984.37,19,12.5,3.8,1.7,0.2,-11,-20],
[1984.51,22.9,11.8,7.4,-8.4,-10.6,-15.7,-17.1,-21.4,-22.9,-27.2,-30.1,-34.4],
[1984.69,16.1],[1984.70,8.9,1.9,-1.2],[1984.72,53.6,46.7,42,38.5,34.8,29.1,24.7,22.6,6.7],
[1984.79,57.2,45.2,41.3,40.6,36.3,34.8,30.5,26.2,23.3,20.4,17.5,14.6,10.3,6],
[1984.92,34.8,26.2,20.4,14.6,8.9,3.1,-2.7,-11.3,-28.7],[1984.96,44.2,43.5,30.5,23.3,17.5,11.8,6,0.2,-4.8,-17.1],
[1985.01,39.9,37.7,20.4,17.5,11.8,7.4,3.1,-2.7,-7,-11.3,-18.5],
[1985.09,44.9,34.8,26.2,20.4,14.6,8.9,3.1,-2.7,-8.4,-14.2,-20],[1985.11,40.6,30.5,23.3,17.5,11.8,6,0.2,-5.6,-11.3,-17.1],
[1985.15,23.3,-1.9],[1985.20,-4.1],[1985.25,39.2,34.8,29.1,24.7,20.4,17.5,14.6,11.8,8.9,6,0.2,-15.7],
[1985.33,44.2,29.1,24.7,17.5,13.2,7.4,3.1,0.2,-4.1,-8.4,-14.2,-18.5,-21.4,-27.2],[1985.40,24.7,19.7,14.6],
[1985.48,20.4,16.1,11.8,7.4,3.1,0.2,-2.7,-5.6,-8.4,-11.3,-14.2,-17.1,-20,-22.9,-25],
[1985.50,14,9,1.5,-4,-10,-16,-19,-23],[1985.56,51.5,23.3,16.1,10.3,3.1,-2.7,-8.4,-14.2,-18.5],
[1985.60,41.3,32,26.2,20.4,14.6,8.9,3.1,-2.7,-8.4,-14.2,-20,-25.8],[1985.62,36.3,23.3,17.5,11.8,6,0.2,-5.6,-11.3,-17.1],
[1985.67,32,27.6,23.3,17.5,11.8,6,0.2,-5.6,-11.3,-17.1,-22.9],[1985.69,20.4,14.6,8.9,3.1,-2.7,-8.4,-14.2,-20,-34.4],
[1985.73,34.1,27.6,6,0.2,-5.6,-14.2,-20,-27.2,-31.5],[1985.77,37,29.1,23.3,17.5,11.8,6,0.2,-5.6,-11.3,-22.9],
[1985.78,20.4,14.6,8.9,3.1,-2.7,-8.4,-17.1],[1985.81,37,33.4,-12.8,-21.4],
[1985.84,48.6,30.5,27.6,23.3,17.5,11.8,6,0.2,-5.6,-14.2,-21.4],[1985.85,20.4,14.6,8.9,3.1,-2.7,-8.4],
[1985.91,42,39.2,34.8,24.7,16.1,8.9,3.1,-5.6,-17.1,-25.8],[1985.92,20.4,11.8,6,-0.5,-11.3,-22.9],
[1985.96,23.3,17.5,11.8,6,0.2,-8.4,-12,-18.5],[1986.04,45.2,37.7,26.2,17.5,11.8,6,0.2,-5.6,-11.3,-17.1],
[1986.06,35.5,20.4,14.6,8.9,3.1,-2.7,-8.4,-14.2,-25.8],[1986.11,20.4,18.3],[1986.20,24.7,20.4,17.5],
[1986.22,-37.3],[1986.24,31.2,7],[1986.29,40.3,32.7,29.1,26.2,23.3,20.4,17.5,14.6,11.8,7.4,3.1],
[1986.37,52.2,47.8,39.9,36.3,30.5,27.6,20.4,16.1,13.2,1.7,0.2,-2.7,-5.6,-8.4],[1986.44,21.9,11.8,2.4,-1]
];
const mlrs1Nights = [
[1983.58,45.5,18.9,-2.2,-60.6],[1983.62,41.8,24.3,-14.4],[1983.71,42.9,32.2,16.3,11,-18],
[1983.75,37.6,27,13.7,8.4,5.7,-31.4,-52.6],[1983.84,18.9,11,-4.9,-15.5,-20.6],
[1983.90,66.6,29.6,8.4,-4.9,-12.8,-31.4,-39.3],
[1984.36,130.3,90.6,85.3,74.7,64.1,53.5,42.8,32.2,21.6,11,0.4,-10.2,-20.8,-31.4,-42,-60.6],
[1984.37,80,70,60,48,38,27,16,6,-5,-15,-26,-36,-50],
[1984.44,90.6,79.9,53.5,42.8,32.2,21.6,11,0.4,-10.2,-15.5],
[1984.54,56.1,45.5,34.9,24.3,13.7,5.7,-4.9,-15.5,-26,-36.7,-44.7,-79.1],
[1984.63,101.1,85.3,64.1,48.2,37.6,27,16.3,5.7,-31.4,-47.1,-73.6],
[1984.64,-118.7,-131.9,-142.5,-153.1,-166.4],
[1984.68,-126.6,-137.2,-147.8,-158.4,-169,-179.6,-190.3,-200.9,-211.5,-222.1,-244.4],
[1984.71,69.3,53.5,37.6,16.3,-20.8],[1984.76,105.3,69.3,56.1,32.2],
[1984.92,-10.2,-20.8,-31.4,-42,-52.6,-63.2,-73.6,-84.4,-95,-105.6,-116.2,-132,-142.6,-153.1,-163.8,-174.4,-187.6],
[1984.96,21.6,11,-2.2,-23.4],[1985.01,143.6,133,125,95.8,80,64.1,53.5,37.6,24.3,13.7],
[1985.67,-2.2,-7.5,-14.5],[1985.90,11,0.4,-10.2],[1985.93,8.4,3.1,-4.9,-15.5],[1985.96,9,-2,-12],
[1986.06,12,5.7,-2.2],[1986.20,5.7,0.4,-4.9],[1986.28,8.4,3.1,-2.2],[1986.33,13.7,5.7,-4.9],
[1986.38,16.3,3.1,-7.5],[1986.43,8.4,0.4],[1986.55,13.7,5.7,-2.2,-11.2],[1986.70,13.7],
[1986.79,18.9,11,3.1,-4.9,-12.8],[1987.27,5.7],[1987.35,11,3.1,-7.5],[1987.49,5.7,-4.9],
[1987.67,24.3,11,5.7,0.4,-4.9],[1987.77,18.9,13.7,5.7,-2.2,-10.2],[1987.86,11,-4.9],
[1987.91,0.4,-10.2],[1987.94,13.7],[1988.06,8.4,-2.2,-10.2]
];
const haleakalaNights = [
[1984.87,4.1,0.8,-0.2,-7.9,-16.5,-17.2],[1985.03,18.1,16.5,14.1,12.8,10.1,9.5,7.1,4.5,2.5,-11.9],
[1985.11,18.8,17.8,16.5,11.8,8.5,7.8],[1985.38,8.5,7.1,-10.9],
[1985.45,16.8,15.1,13.8,11.8,8.5,6.5,3.8,2.5,-0.9,-2.2,-4.2,-5.9,-10.9],
[1985.54,16.1,12.5,5.8,3.8,2.8,1.1,-0.2,-2.2,-3.9,-5.5,-7.2,-8.9,-10.9,-14.9,-16.5],
[1985.63,12.1,10.1,7.8,6.5,5.1,3.8,2.5,1.1,-0.2,-1.5,-2.9,-4.2,-5.5,-6.9,-8.2,-9.5,-10.9,-11.9],
[1985.69,14.8,11.8,9.1,7.8,6.5,5.1,3.8,2.5,1.1,-0.2,-1.5,-2.9,-4.2,-5.5,-6.9,-8.2,-9.5],
[1985.79,10.1,7.1,5.1,3.1,-0.2,-2.2,-4.2,-18.2],
[1985.94,6.8,4.5,2.5,-0.9,-4.2,-5.2,-6.9,-8.5,-12.5,-16.2,-18.9],[1986.08,6.5,4.8,-2.2,-2.9,-4.2,-12.2],
[1986.48,7.1,4.8,3.1,-0.2],[1986.58,1.1,-1.5,-3.5,-4.9,-6.2,-7.5,-8.9,-10.2,-13.5,-15.5,-16.9],
[1986.70,5.8,3.8,1.1,-4.2,-5.5,-6.9,-8.2,-9.5,-10.9,-12.2,-13.5,-14.9,-16.9,-19.5,-21.2],
[1986.98,4.8,-4.2,-6.2,-10.2],[1987.29,12.5,11.5,8.1,2.8,-0.5,-2.2,-5.5,-6.9,-10.2,-13.5,-17.2,-20.1],
[1987.37,9.5,5.8,1.1,-2.2,-4.2,-6.9,-8.2,-10.9],
[1987.45,3.1,1.1,-0.2,-2.2,-2.9,-4.2,-6.2,-8.2,-10.2,-12.9,-14.9,-16.9],
[1987.56,12.5,8.5,6.5,5.1,3.8,2.5,1.1,-0.2,-1.5],[1987.60,2.9,-2.9,-4.2,-5.5,-6.9,-8.2,-9.5,-14.2,-16.2],
[1987.73,1.1,-0.2,-1.5,-2.9,-4.2,-5.5,-6.9,-8.2],
[1987.87,1.5,0.1,-1.2,-2.5,-3.9,-5.2,-6.5,-7.9,-9.2,-10.5,-11.9,-13.2],
[1988.02,4.5,1.5,-0.2,-2.9,-4.2],[1988.22,2.1,1.1,-1.2,-2.9,-4.9,-6.2,-9.2],
[1988.40,10.1,9.1,6.5,5.1,3.1,1.1,-0.2,-1.5,-2.5,-3.5,-7.2,-12.9],
[1988.53,22.5,4.5,2.5,1.1,-0.5,-2.2,-4.2,-13.2],
[1988.66,10.5,7.8,5.8,4.5,2.5,1.1,-0.2,-2.2,-4.2,-8.2,-20.5],[1988.75,8.5,6.5,5.1,3.5,2.5,1.8,1.1],
[1988.92,22.5,20.5,15.8,14.8,9.1,7.1],[1989.06,26.1],[1989.21,5.8,4.5,1.8,0.5,-3.5],[1989.28,-6.5],
[1989.38,6.8,4.8,3.8,2.5,1.8,1.1,-1.5,-2.5,-3.9],
[1989.66,24.1,23.1,21.8,17.8,16.5,14.5,12.8,11.1,9.1,7.8,6.5,5.1,3.8,2.5,1.1,-0.2],
[1989.76,10.5,6.5,5.1,3.8,2.5,1.1,-0.2,-1.5,-4.2,-21.5],
[1989.91,16.1,15.1,12.5,11.8,10.5,9.1,7.8,6.5,5.1,3.8,2.5,1.1,-0.5,-4.9],
[1990.11,0.8,-0.2,-3.5,-4.5,-7.5,-10.2],[1990.23,-1.9,-3.5,-5.5,-10.5,-13.5,-14.9,-16.5],
[1990.52,-5.2,-6.2,-24.5],[1990.63,10.8,6.8,4.5,1.1,0.1,-0.9,-2.9,-4.2,-12.2]
];
const apolloNights = [
[2006.26,4.7,3.3,1.3],[2006.42,4.6,4.3,3.5,2.1,-0.5,-1.4,-2.3],
[2006.46,10.2,8.3,7.4,7,0.2,-0.1,-0.9,-1.6,-3.6,-4.9,-6.2,-6.9,-9.6],[2006.50,7.5,4.6,4.3,3.3,-3.8],
[2006.52,-1.4,-2.5],[2006.60,3,1.5],[2006.75,-3.6,-8.1,-9.4],[2006.77,10,9.4,5.9,3.9],[2006.85,-4],
[2006.86,7.4,5.9,3.7],[2006.91,8.2,7.2,5.2,5,2.1,1.3,-0.1,-2.9],[2006.95,7.2,5.9,5.5,2.4,-0.6],
[2006.98,1.3,-0.9],[2007.02,11.7,9.2,6.6,6.3,3.1],[2007.06,1.3,0.1,-1.2],[2007.10,9.1,5.4,4.4,3.9],
[2007.11,2.8],[2007.14,2.1,0.2,-1.6],[2007.15,6.3,3.2,1.2],[2007.19,0.8],
[2007.23,9.1,5.2,3.2,2.6,2.2,1.7,1.3],[2007.31,1.5,1.2,0.6,-0.5,-3.4,-7.8],[2007.36,1.5,1,0.2,-0.7],
[2007.39,10.2,6.1,5,4.3,3.5,2.4,-0.9,-1.8],[2007.42,-2,-2.3,-3.6,-7.8,-13.8],
[2007.46,10.5,6.2,5.2,4.8,2.6,1.2,0.6,-2.9],[2007.51,9.1,1.5,1.3],
[2007.74,-0.3,-1,-6,-7.1,-7.8],[2007.80,6.5,4.3,3.3,-0.5,-1.4,-1.6,-4,-4.9,-6.2,-6.7,-7.4,-7.9],
[2007.84,9,6.3,2.2,0.6,0.2],[2007.89,7.9,5.5,2.2,1,0.1,-0.1,-0.5,-1,-2.3,-5.2,-5.6,-7.1,-7.6],
[2007.93,7.7,3.9,3.2,1.3,-2,-2.3],
[2007.97,10.8,10.5,9.4,8.5,7.2,5.7,5.2,4.3,3.2,2.6,1.9,0.6,-0.5,-2.5,-3.4,-4],
[2008.00,7,6.5,1.7,1.2],[2008.04,5.2,1.3,0.2,-1.6,-2.2],[2008.10,6.1,5.4,4.3,3.7,3.3,2.8,0.2,-1,-1.8,-6.7],
[2008.15,6.5,5.5,4.6,3.5,2.8,-2.7],[2008.22,6.8,6.1,5.5,5,4.4,3.9,3.5,0.2,-0.1,-4.5,-5.1,-5.6,-6.2,-6.5,-8],
[2008.28,6.1,4.3,3.2,1.3,0.2,-0.5,-2.3,-3.2,-4.1,-5.2,-6,-9.3],[2008.33,7.2,5,4.3,3.5,2.4,1.3,0.6,-0.1,-0.9,-1.6,-7.4],
[2008.40,10.5,4.6,4.1,3.2,2.1,1.3,0.6,-0.1,-0.9,-1.6,-2.3,-3.1,-3.8,-4.5,-5.2],
[2008.44,2.4,1.7,1,0.2,-0.5,-1.2,-2.3,-3.8,-5.2,-9.1],[2008.48,4.3,2.1,0.6,-0.9],[2008.55,6.6,1.3,0.6],
[2008.71,4.1,3.2,2.1,1.3,0.2,-0.5,-1.2,-2,-2.7,-3.4,-4.1,-4.9,-6,-7.1,-8],
[2008.77,11,8.5,7.2,2.4,1.7,1,-0.9,-2.7,-3.8,-5.2,-9.6,-10.4,-11.1],[2008.81,4.6,3.9,3.2,1,0.6,-2.3,-2.9,-3.4,-3.8,-4.3],
[2008.85,7.9,7,6.1,5.4,2.8,-0.9,-1.2,-5.6,-6.3,-7.1,-7.8,-8.5],[2008.88,7,3.7,3.2,2.1,-2.9,-3.8],
[2008.93,-1.6,-8.9,-9.6,-10],[2009.04,2.1,-0.5,-3.8],[2009.09,6.8,6.3,5.2,-3.1,-4.1],[2009.12,10,-1.8],
[2009.20,6.3,5.7,4.8,1,-1.2,-3.6,-4.9,-6.2,-10,-10.5],[2009.25,3.3,1.2,-5.2,-5.8,-6.3,-7.1,-8.9,-9.6],
[2009.36,3.2,2.4,1.7,1,-0.5,-1.6,-2.7,-5.1,-6.2,-9.8,-11.1,-12.7],[2009.40,7.7,-0.7,-1.4],
[2009.44,2.1,1.5,0.6,-0.1,-0.9,-1.8,-2.3,-3.8,-4.5,-9.1,-10.4,-11.6,-12.6]
];
// ---- tick labels ----
const ticksX8710 = [1990,1995,2000,2005,2010];
const ticksXMcD = [1970,1972,1974,1976,1978,1980,1982,1984,1986];
const ticksXC8486 = [1984,1985,1986];
const ticksXMlrs1 = [1984,1985,1986,1987,1988];
const ticksXHal = [1984,1986,1988,1990];
const ticksXApo = [2006,2007,2008,2009];
const ticksY20 = [-20,-10,0,10,20];
const ticksYMcD = [-100,-50,0,50,100];
const ticksYC8486 = [-50,-25,0,25,50];
const ticksYMlrs1 = [-200,-100,0,100,200];
const ticksYHal = [-30,-20,-10,0,10,20,30];
const ticksYApo = [-15,-10,-5,0,5,10,15];

const panels = [
 {nights:cerga8710Nights, name:'CERGA 87\u221210', xr:[1987,2011], xt:ticksX8710, yr:[-25,25], yt:ticksY20, gap:111, box:{left:176,top:9.5,width:1730,height:300}},
 {nights:mlrs2Nights, name:'MLRS2', xr:[1987,2011], xt:ticksX8710, yr:[-25,25], yt:ticksY20, gap:113, box:{left:176,top:400,width:1730,height:300}},
 {nights:mcdonaldNights, name:'Mc Donald', xr:[1969,1986], xt:ticksXMcD, yr:[-140,140], yt:ticksYMcD, gap:111, box:{left:176,top:790,width:1730,height:300}},
 {nights:cerga8486Nights, name:'CERGA 84\u221286', xr:[1984,1986.68], xt:ticksXC8486, yr:[-60,70], yt:ticksYC8486, gap:121, box:{left:176,top:1179,width:759,height:301}},
 {nights:mlrs1Nights, name:'MLRS1', xr:[1983.3,1988.5], xt:ticksXMlrs1, yr:[-280,200], yt:ticksYMlrs1, gap:120, box:{left:1146,top:1179,width:760,height:301}},
 {nights:haleakalaNights, name:'Haleakala', xr:[1984,1991.2], xt:ticksXHal, yr:[-30,30], yt:ticksYHal, gap:121, box:{left:176,top:1569.5,width:759,height:300.5}},
 {nights:apolloNights, name:'Apollo', xr:[2006,2009.7], xt:ticksXApo, yr:[-18,15], yt:ticksYApo, gap:120, box:{left:1146,top:1568.5,width:760,height:302.5}}
];

const FONT = '"Liberation Sans", Arial, Helvetica, sans-serif';
const fmtNum = v => (v < 0 ? '\u2212' + Math.abs(v) : String(v));
const option = {animation:false, backgroundColor:'#fff', grid:[], xAxis:[], yAxis:[], series:[], graphic:[]};
panels.forEach((p, i) => {
  option.grid.push(Object.assign({show:true, borderColor:'#000', borderWidth:3, backgroundColor:'rgba(0,0,0,0)',
    containLabel:false, outerBoundsMode:'none'}, p.box));
  ['bottom','top'].forEach(pos => {
    option.xAxis.push({type:'value', gridIndex:i, position:pos, min:p.xr[0], max:p.xr[1],
      axisLine:{show:false, onZero:false}, splitLine:{show:false},
      axisTick:{show:true, inside:true, length:25, customValues:p.xt, lineStyle:{color:'#000', width:3}},
      axisLabel:{show:pos==='bottom', customValues:p.xt, margin:26, fontSize:42, fontFamily:FONT, color:'#000', formatter:v=>String(v)}});
  });
  ['left','right'].forEach(pos => {
    option.yAxis.push({type:'value', gridIndex:i, position:pos, min:p.yr[0], max:p.yr[1],
      name: pos==='left' ? p.name : '', nameLocation:'middle', nameRotate:90, nameGap:p.gap, nameMoveOverlap:false,
      nameTextStyle:{fontSize:43, fontFamily:FONT, color:'#000'},
      axisLine:{show:false, onZero:false}, splitLine:{show:false},
      axisTick:{show:true, inside:true, length:25, customValues:p.yt, lineStyle:{color:'#000', width:3}},
      axisLabel:{show:pos==='left', customValues:p.yt, margin:30, fontSize:42, fontFamily:FONT, color:'#000', formatter:fmtNum}});
  });
  const pts = [];
  p.nights.forEach(n => { for (let k = 1; k < n.length; k++) pts.push([n[0], n[k]]); });
  option.series.push({type:'scatter', xAxisIndex:2*i, yAxisIndex:2*i, data:pts, symbol:'circle', symbolSize:4.5,
    itemStyle:{color:'#ff0000'}, silent:true, z:3});
});
option.graphic = [
  {type:'rect', x:1732, y:0, shape:{x:0, y:0, width:222, height:116}, style:{fill:'#b3f7cc'}, z:100},
  {type:'text', x:1751, y:50, style:{text:'INPOP', fontSize:96, fontFamily:'Lato, "Open Sans", sans-serif', fill:'#000', verticalAlign:'middle', align:'left'}, z:101}
];
const chart = echarts.init(document.getElementById('c'), null, {renderer:'canvas', width:1954, height:1934});
chart.setOption(option);
</script></body></html>
